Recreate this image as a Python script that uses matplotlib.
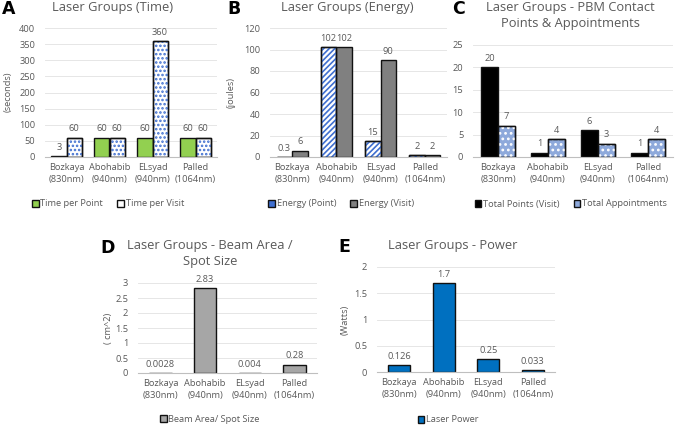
import matplotlib
matplotlib.use("Agg")
import matplotlib.pyplot as plt
from matplotlib.patches import Patch
import numpy as np

# --- data ---
groups = ["Bozkaya\n(830nm)", "Abohabib\n(940nm)", "ELsyad\n(940nm)", "Palled\n(1064nm)"]
time_point = [3, 60, 60, 60]
time_visit = [60, 60, 360, 60]
energy_point = [0.3, 102, 15, 2]
energy_visit = [6, 102, 90, 2]
total_points = [20, 1, 6, 1]
total_appts = [7, 4, 3, 4]
beam_area = [0.0028, 2.83, 0.004, 0.28]
beam_text = ["0.0028", "2.83", "0.004", "0.28"]
power = [0.126, 1.7, 0.25, 0.033]
power_text = ["0.126", "1.7", "0.25", "0.033"]

plt.rcParams['font.family'] = ['Open Sans', 'DejaVu Sans']
plt.rcParams['hatch.linewidth'] = 1.2
W, H = 678, 426
TXT = "#595959"
fig = plt.figure(figsize=(W / 100, H / 100), dpi=100)


def box(l, t, r, b):
    return fig.add_axes([l / W, 1 - b / H, (r - l) / W, (b - t) / H])


def style(ax, top, step):
    ax.set_xlim(-0.5, 3.5)
    ax.set_ylim(0, top)
    ax.set_yticks(np.arange(0, top + step / 2, step))
    ax.set_xticks(range(4))
    ax.set_xticklabels(groups, fontsize=6.7, color=TXT, linespacing=1.5)
    ax.tick_params(axis='y', labelsize=6.7, labelcolor=TXT, length=0, pad=7)
    ax.tick_params(axis='x', length=0, pad=4)
    for s in ["top", "right", "left"]:
        ax.spines[s].set_visible(False)
    ax.spines["bottom"].set_color("#bfbfbf")
    ax.grid(axis='y', color="#e6e6e6", linewidth=0.7)
    ax.set_axisbelow(True)


def bars(ax, x, vals, w, face, hatch=None, hcol=None, labels=None):
    b = ax.bar(x, vals, w, color=face, edgecolor="#111111", linewidth=1.0, zorder=2)
    if hatch:
        ax.bar(x, vals, w, fill=False, edgecolor=hcol, hatch=hatch, linewidth=0, zorder=3)
        ax.bar(x, vals, w, fill=False, edgecolor="#111111", linewidth=1.0, zorder=4)
    ax.bar_label(b, labels=labels, padding=3, fontsize=6.7, color=TXT)
    return b


def legend(cx, cy, handles, names, gap=1.5):
    fig.legend(handles, names, loc="center", bbox_to_anchor=(cx / W, 1 - cy / H),
               ncol=len(names), frameon=False, fontsize=6.7, labelcolor=TXT,
               handlelength=0.7, handleheight=0.7, handletextpad=0.2, columnspacing=gap)


def title(cx, cy, s):
    fig.text(cx / W, 1 - cy / H, s, ha="center", va="center", fontsize=9.3, color=TXT,
             linespacing=1.3)


def letter(x, y, s):
    fig.text(x / W, 1 - y / H, s, ha="left", va="center", fontsize=12.5, weight="bold",
             family="DejaVu Sans")


def ylab(x, y, s):
    fig.text(x / W, 1 - y / H, s, ha="center", va="center", rotation=90, fontsize=6.7,
             color=TXT)


x = np.arange(4)
blue = "#3F6FD0"

# A
ax = box(45, 28, 217, 157)
style(ax, 400, 50)
bars(ax, x - 0.175, time_point, 0.35, "#92D050")
bars(ax, x + 0.175, time_visit, 0.35, "white", "....", blue)
title(113, 8, "Laser Groups (Time)")
letter(2, 9, "A")
ylab(8, 92, "(seconds)")
legend(108, 204,
       [Patch(fc="#92D050", ec="#111111"), Patch(fc="white", ec="#111111")],
       ["Time per Point", "Time per Visit"])

# B
ax = box(270, 28, 447, 157)
style(ax, 120, 20)
bars(ax, x - 0.175, energy_point, 0.35, "white", "//////", blue)
bars(ax, x + 0.175, energy_visit, 0.35, "#808080")
title(347, 8, "Laser Groups (Energy)")
letter(227, 9, "B")
ylab(231, 92, "(joules)")
legend(341, 204,
       [Patch(fc=blue, ec="#111111"), Patch(fc="#808080", ec="#111111")],
       ["Energy (Point)", "Energy (Visit)"])

# C
ax = box(473, 45, 673, 157)
style(ax, 25, 5)
bars(ax, x - 0.17, total_points, 0.34, "black")
bars(ax, x + 0.17, total_appts, 0.34, "#8EA9DB", "...", "white")
title(570, 15, "Laser Groups - PBM Contact\nPoints & Appointments")
letter(452, 9, "C")
legend(571, 204,
       [Patch(fc="black", ec="#111111"), Patch(fc="#8EA9DB", ec="#111111")],
       ["Total Points (Visit)", "Total Appointments"])

# D
ax = box(138, 283, 317, 373)
style(ax, 3, 0.5)
ax.set_yticklabels(["0", "0.5", "1", "1.5", "2", "2.5", "3"])
bars(ax, x, beam_area, 0.5, "#A6A6A6", labels=beam_text)
title(210, 254, "Laser Groups - Beam Area /\nSpot Size")
letter(100, 248, "D")
ylab(108, 328, "( cm^2)")
legend(210, 419, [Patch(fc="#A6A6A6", ec="#111111")], ["Beam Area/ Spot Size"])

# E
ax = box(377, 267, 555, 372)
style(ax, 2, 0.5)
ax.set_yticklabels(["0", "0.5", "1", "1.5", "2"])
bars(ax, x, power, 0.5, "#0070C0", labels=power_text)
title(453, 245, "Laser Groups - Power")
letter(338, 247, "E")
ylab(345, 320, "(Watts)")
legend(448, 420, [Patch(fc="#0070C0", ec="#111111")], ["Laser Power"])

fig.savefig("out.png", dpi=100)
